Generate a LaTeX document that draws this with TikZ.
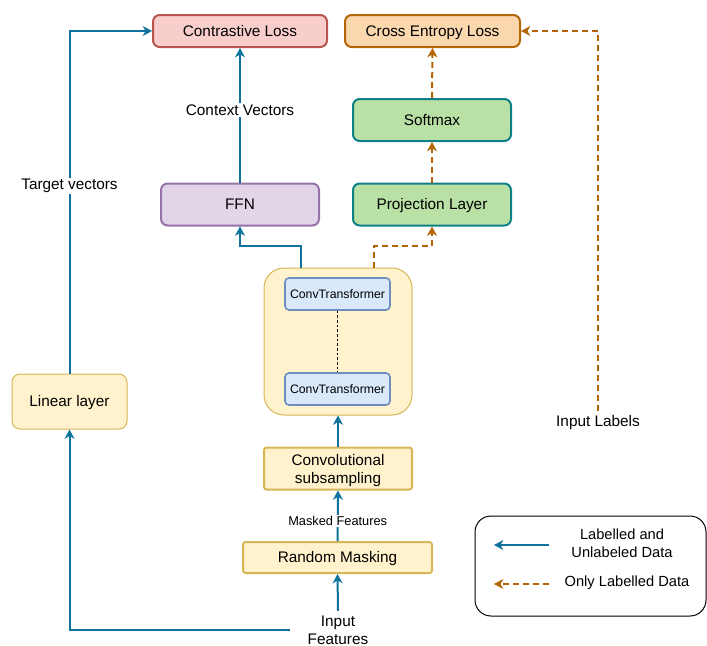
\documentclass[tikz,border=0pt]{standalone}
\usepackage{fontspec}
\setmainfont{Liberation Sans}
\usepackage{tikz}
\usetikzlibrary{arrows.meta}
\definecolor{linkblue}{HTML}{10739E}
\definecolor{linkorange}{HTML}{B46504}
\definecolor{lossred}{HTML}{B85450}
\definecolor{lossredfill}{HTML}{F8CECC}
\definecolor{lossorangefill}{HTML}{FAD7AC}
\definecolor{headline}{HTML}{0E8088}
\definecolor{headfill}{HTML}{B9E0A5}
\definecolor{ffnline}{HTML}{9673A6}
\definecolor{ffnfill}{HTML}{E1D5E7}
\definecolor{creamline}{HTML}{D6B656}
\definecolor{creamfill}{HTML}{FFF2CC}
\definecolor{convline}{HTML}{6C8EBF}
\definecolor{convfill}{HTML}{DAE8FC}

\begin{document}
\begin{tikzpicture}[
      x=0.75pt, y=-0.75pt,
      >={Stealth[length=7pt,width=7.5pt,inset=2.2pt]},
      font=\fontsize{11.5}{13.5}\selectfont,
      one line/.style={text height=8.2pt,text depth=0pt},
      block/.style={draw,line width=1.5pt,rounded corners=5pt,align=center,inner sep=0pt},
      loss block/.style={block,one line,minimum width=130.5pt,minimum height=24pt},
      head block/.style={block,one line,minimum width=118.5pt,minimum height=31.5pt},
      cream block/.style={block,draw=creamline,fill=creamfill},
      conv block/.style={draw,line width=1.2pt,rounded corners=3pt,draw=convline,fill=convfill,minimum width=78.75pt,minimum height=24pt,inner sep=0pt,text height=6.6pt,text depth=0pt,font=\fontsize{9.2}{10}\selectfont},
      full link/.style={->,line width=1.5pt,linkblue},
      label link/.style={->,line width=1.5pt,linkorange,dash pattern=on 4.5pt off 3pt},
      link label/.style={fill=white,text=black,inner sep=1pt},
      stack link/.style={black,line width=0.6pt,dash pattern=on 2pt off 1.5pt}
      ]
      \useasboundingbox (0,0) rectangle (707,646);
      % nodes
      % losses
      \node [loss block,draw=lossred,fill=lossredfill] (contrastive) at (240,31) {Contrastive Loss};
      \node [loss block,draw=linkorange,fill=lossorangefill,minimum width=131.25pt] (crossentropy) at (432.5,31) {Cross Entropy Loss};
      % heads
      \node [head block,draw=headline,fill=headfill] (softmax) at (432,120) {Softmax};
      \node [head block,draw=headline,fill=headfill] (projection) at (432,204.5) {Projection Layer};
      \node [head block,draw=ffnline,fill=ffnfill] (ffn) at (240,204.5) {FFN};
      % encoder
      \node [cream block,line width=0.75pt,rounded corners=15pt,minimum width=111pt,minimum height=110.25pt] (encoder) at (338,341.5) {};
      \node [conv block] (conv top) at (337.5,294) {ConvTransformer};
      \node [conv block] (conv bottom) at (337.5,389) {ConvTransformer};
      \node [cream block,text depth=0pt,rounded corners=2pt,minimum width=111pt,minimum height=31.5pt] (subsampling) at (338,468.5) {Convolutional\\subsampling};
      \node [cream block,one line,rounded corners=2pt,minimum width=141.75pt,minimum height=23.25pt] (masking) at (337.5,557.5) {Random Masking};
      \node [cream block,one line,line width=0.75pt,rounded corners=6pt,minimum width=86.25pt,minimum height=41.25pt] (linear) at (69.5,401.5) {Linear layer};
      % inputs
      \node [align=center,minimum width=72pt] (input features) at (338,630) {Input\\Features};
      \node [one line] (input labels) at (598,421) {Input Labels};
      % arcs
      % contrastive branch
      \draw [full link] (linear.north) |- node [link label,pos=.274] {Target vectors} (contrastive.west);
      \draw [full link] (ffn.north) -- node [link label,pos=.54] {Context Vectors} (contrastive.south);
      \draw [full link] ([xshift=-27.75pt]encoder.north) -- ++(0,-22) -| (ffn.south);
      % labelled branch
      \draw [label link] ([xshift=27pt]encoder.north) -- ++(0,-22) -| (projection.south);
      \draw [label link] (projection.north) -- (softmax.south);
      \draw [label link] (softmax.north) -- (crossentropy.south);
      \draw [label link] (input labels.north) |- (crossentropy.east);
      % encoder
      \draw [stack link] (conv top.south) -- (conv bottom.north);
      \draw [full link] (subsampling.north) -- (encoder.south);
      \draw [full link] (masking.north) -- node [link label,pos=.4,font=\fontsize{9.6}{11}\selectfont] {Masked Features} (subsampling.south);
      \draw [full link] (input features.north) -- (masking.south);
      \draw [full link] (input features.west) -| (linear.south);
      % legend
      \node [draw,line width=0.75pt,rounded corners=12pt,minimum width=173.25pt,minimum height=75pt,fill=white] (legend) at (590.5,566) {};
      \coordinate (key full) at (549,545);
      \coordinate (key label) at (549,584);
      \draw [full link] (key full) -- ++(-55,0);
      \draw [label link] (key label) -- ++(-55,0);
      \node [align=center,font=\fontsize{11}{13.5}\selectfont] (key full text) at (622,543) {Labelled and\\Unlabeled Data};
      \node [one line,font=\fontsize{11}{13.5}\selectfont] (key label text) at (627,581) {Only Labelled Data};
    \end{tikzpicture}
\end{document}
